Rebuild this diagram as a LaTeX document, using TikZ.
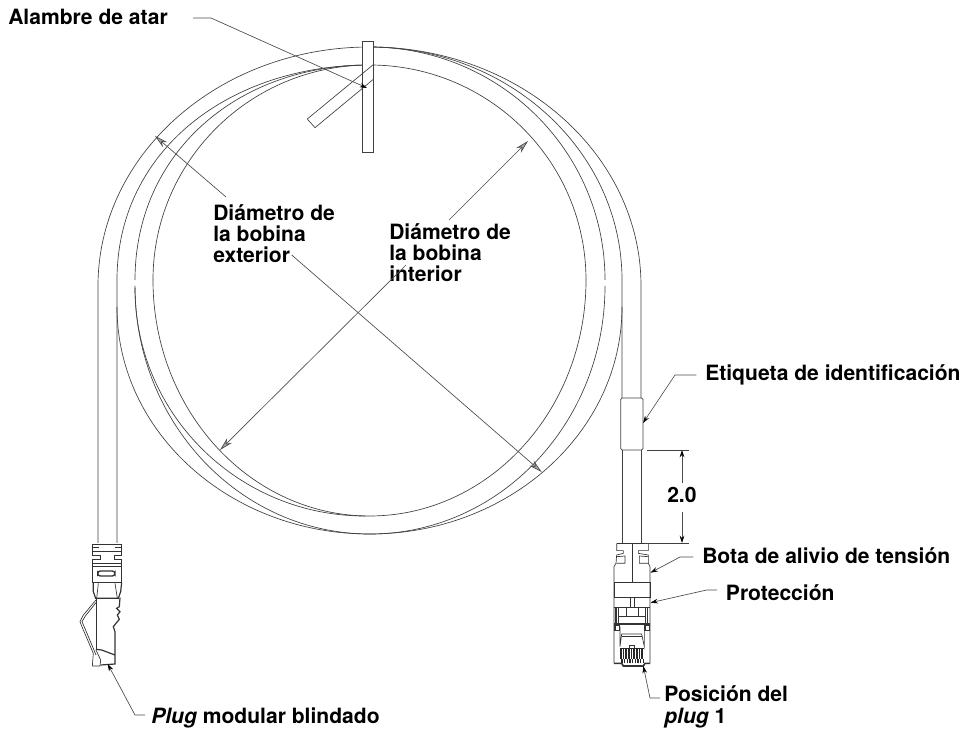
\documentclass[tikz,border=0pt]{standalone}
\usepackage{fontspec}
\setmainfont{TeX Gyre Heros}
\usetikzlibrary{arrows.meta}

\tikzset{
    ring/.style={draw=black!75, line width=0.5pt},
    plugline/.style={draw=black!80, line width=0.5pt},
    label/.style={font=\bfseries\fontsize{15.8}{15.8}\selectfont, inner sep=0pt, anchor=base west, align=left},
    leader/.style={draw=black!70, line width=0.5pt, shorten <=6.5pt, -{Stealth[length=5.5pt,width=3.5pt,black]}},
    dimline/.style={draw=black!70, line width=0.5pt, -{Stealth[length=10pt,width=5pt,fill=black!35]}},
    extline/.style={draw=black!75, line width=0.5pt},
}

\begin{document}
\begin{tikzpicture}[x=0.75pt, y=-0.75pt]
    \useasboundingbox (0,0) rectangle (964,730);

    % cable and coils
    \draw[ring] (98,543) -- (98,286) arc[start angle=180, end angle=360, x radius=271.5, y radius=239] -- (641,398);
    \draw[ring] (641,450) -- (641,543);
    \draw[ring] (117,543) -- (117,280) .. controls (117,150) and (230,65) .. (369.5,65);
    \draw[ring] (369.5,47) arc[start angle=270, end angle=360, x radius=252.5, y radius=233] -- (622,398);
    \draw[ring] (622,450) -- (622,543);
    \draw[ring] (135,280) .. controls (135,155) and (235,65) .. (369.5,65);
    \draw[ring] (369.5,47) arc[start angle=270, end angle=360, x radius=235.5, y radius=233];
    \draw[ring] (153,280) arc[start angle=180, end angle=360, x radius=216.5, y radius=215];
    \draw[ring] (153,280) arc[start angle=180, end angle=0, x radius=216.5, y radius=236];
    \draw[ring] (117,307) arc[start angle=180, end angle=0, x radius=252.5, y radius=227];
    \draw[ring] (135,286) arc[start angle=180, end angle=0, x radius=235, y radius=248];
    \draw[ring] (135,288) arc[start angle=180, end angle=90, x radius=230, y radius=228];

    % tag on the cable
    \draw[ring, rounded corners=1pt] (620.7,398) rectangle (643,450);

    % tie wire
    \draw[ring, fill=white] (362.3,41) rectangle (373.7,152);
    \draw[ring] (373.7,64.3) -- (307.3,119) -- (315,127.7) -- (373.7,79);

    % left plug, boot
    \begin{scope}[shift={(60,470)}, scale=1/3]
        \draw[plugline] (97,222) rectangle (185,245);
        \draw[plugline, line width=1pt] (97,233) -- (117,233) (165,233) -- (185,233);
        \draw[plugline] (97,245) -- (97,255) -- (120,255) -- (120,268) -- (97,268) -- (97,337);
        \draw[plugline] (185,245) -- (185,255) -- (163,255) -- (163,268) -- (185,268) -- (185,337);
        \draw[plugline] (97,280) -- (185,280) (97,290) -- (185,290);
        \draw[plugline, line width=1pt, rounded corners=2pt] (113,303) rectangle (165,318);
        \draw[plugline] (97,337) -- (185,337);
        \draw[plugline, line width=0.9pt] (100,337) -- (100,365) -- (107,385) -- (175,385) -- (182,365) -- (185,337);
        \draw[plugline] (115,340) -- (110,385) (165,340) -- (172,385);
    \end{scope}
    % left plug, body and latch
    \begin{scope}[shift={(60,560)}, scale=1/3]
        \draw[plugline, line width=0.9pt] (180,113) -- (178,140) -- (170,145) -- (180,155) -- (172,165) -- (178,178) -- (168,190) -- (160,200) -- (165,215) -- (165,305) -- (165,312) -- (122,315);
        \draw[plugline] (108,113) -- (108,270);
        \draw[plugline] (108,120) -- (70,165) -- (60,185) -- (70,210) -- (100,280) -- (97,318) -- (120,318) -- (122,300) -- (108,270);
        \draw[plugline] (108,128) -- (76,168) -- (66,185) -- (76,208) -- (108,285);
        \draw[plugline, line width=0.9pt] (108,268) -- (125,270) -- (165,285);
    \end{scope}

    % right plug
    \begin{scope}[shift={(590,500)}, scale=1/3]
        \draw[plugline] (80,130) -- (175,130);
        \draw[plugline] (80,130) -- (80,152) -- (100,152) -- (100,160) -- (80,165) -- (78,190) -- (72,200) -- (72,490);
        \draw[plugline] (175,130) -- (175,152) -- (145,152) -- (145,160) -- (175,165) -- (175,190) -- (180,200) -- (180,490);
        \draw[plugline] (80,170) -- (105,168) -- (105,190) -- (80,190) (175,170) -- (148,168) -- (148,190) -- (175,190);
        \draw[plugline] (127,130) -- (127,248);
        \draw[plugline] (72,248) rectangle (180,293);
        \draw[plugline] (120,293) rectangle (132,322);
        \draw[plugline, line width=1pt] (72,322) -- (180,322) (72,372) -- (180,372);
        \draw[plugline, line width=1pt] (78,322) rectangle (172,372);
        \draw[plugline] (85,325) -- (85,368) (108,325) -- (108,350) -- (145,350) -- (145,325) (165,325) -- (165,368) (85,350) -- (165,350);
        \draw[plugline, line width=0.9pt] (75,375) rectangle (88,392) (165,375) rectangle (178,392);
        \draw[plugline] (90,380) -- (90,440) -- (95,402) -- (155,402) -- (163,440) -- (163,380);
        \draw[plugline] (95,410) -- (155,410);
        \draw[plugline] (118,445) -- (118,437) -- (132,437) -- (132,445);
        \draw[plugline, line width=1.2pt] (72,490) -- (95,490) -- (100,498) -- (160,498) -- (165,490) -- (180,490);
        \fill[black!85] (90,445) rectangle (162,478);
        \foreach \xpos in {96,104,...,160} {
            \draw[black!85, line width=0.9pt] (\xpos,478) -- (\xpos,490);
        }
        \foreach \xpos in {96,104,...,160} {
            \draw[white, line width=0.3pt] (\xpos,447) -- (\xpos,478);
        }
    \end{scope}

    % labels
    \node[label] (alambre) at (8,25) {Alambre de atar};
    \node[label] (exterior) at (213,263) {Diámetro de\\la bobina\\exterior};
    \node[label] (interior) at (389,281.7) {Diámetro de\\la bobina\\interior};
    \node[label] (etiqueta) at (705,381) {Etiqueta de identificación};
    \node[label] (dosuno) at (667,503) {2.0};
    \node[label] (bota) at (702,564) {Bota de alivio de tensión};
    \node[label] (proteccion) at (725.7,600) {Protección};
    \node[label] (posicion) at (664,723) {Posición del\\\textit{plug} 1};
    \node[label] (blindado) at (151,723) {\textit{Plug} modular blindado};

    % anchors of the leaders
    \coordinate (wirefree) at (193,18);
    \coordinate (wirebend) at (211,18);
    \coordinate (wiretip) at (367,88);
    \coordinate (tagbend) at (675,375);
    \coordinate (tagtip) at (643,423);
    \coordinate (dimtop) at (682,450);
    \coordinate (dimbot) at (682,543);
    \coordinate (dimuptail) at (682,483);
    \coordinate (dimdowntail) at (682,512);
    \coordinate (botabend) at (680,557);
    \coordinate (botatip) at (650.5,572.7);
    \coordinate (protbend) at (706.7,590);
    \coordinate (prottip) at (650.5,602.7);
    \coordinate (posfree) at (660,698);
    \coordinate (posbend) at (650,698);
    \coordinate (postip) at (643.3,666);
    \coordinate (plugfree) at (145,715);
    \coordinate (plugbend) at (135,715);
    \coordinate (plugtip) at (107.7,664);
    \coordinate (outeratip) at (155,136);
    \coordinate (outerafree) at (226,197);
    \coordinate (outerbtip) at (541.7,472);
    \coordinate (outerbfree) at (291.7,255);
    \coordinate (inneratip) at (528,141);
    \coordinate (innerafree) at (449,220);
    \coordinate (innerbtip) at (220,450);
    \coordinate (innerbfree) at (406,265);

    % leaders
    \draw[leader, shorten <=0pt] (wirefree) -- (wirebend) -- (wiretip);
    \draw[leader] (etiqueta.west |- tagbend) -- (tagbend) -- (tagtip);
    \draw[leader] (bota.west |- botabend) -- (botabend) -- (botatip);
    \draw[leader] (proteccion.west |- protbend) -- (protbend) -- (prottip);
    \draw[leader, shorten <=0pt] (posfree) -- (posbend) -- (postip);
    \draw[leader, shorten <=0pt] (plugfree) -- (plugbend) -- (plugtip);

    % diameters
    \draw[dimline] (outerafree) -- (outeratip);
    \draw[dimline] (outerbfree) -- (outerbtip);
    \draw[dimline] (innerafree) -- (inneratip);
    \draw[dimline] (innerbfree) -- (innerbtip);

    % dimension 2.0
    \draw[extline] (647,450) -- (689,450);
    \draw[extline] (645,543) -- (689,543);
    \draw[leader, shorten <=0pt] (dimuptail) -- (dimtop);
    \draw[leader, shorten <=0pt] (dimdowntail) -- (dimbot);
\end{tikzpicture}
\end{document}
